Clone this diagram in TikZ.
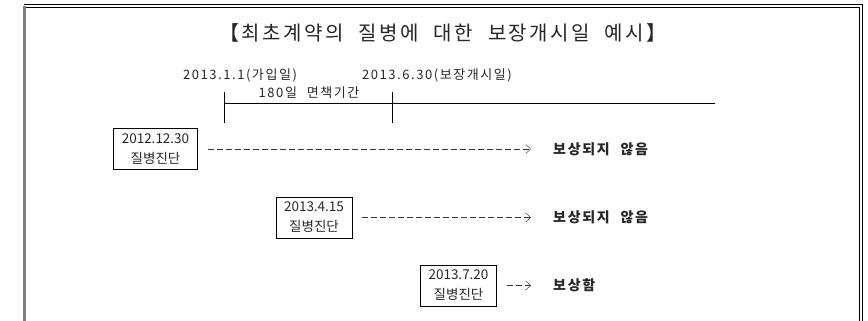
\documentclass[tikz,border=0pt]{standalone}
\usepackage{fontspec}
\setmainfont{Noto Sans CJK KR}
\newfontfamily\krwide[LetterSpace=12,WordSpace=2.2]{Noto Sans CJK KR}
\usetikzlibrary{arrows.meta}
\begin{document}
\begin{tikzpicture}
[x=1pt,y=-1pt,thin,%
  every node/.style={inner sep=0pt,text=black!85},%
  datebox/.style={draw,semithick,inner xsep=8pt,inner ysep=5pt,align=center,%
    font=\fontsize{13.5}{20}\selectfont},%
  result/.style={anchor=west,font=\krwide\fontsize{14}{15}\selectfont\bfseries},%
  dashline/.style={black!80,dash pattern=on 6pt off 3pt,shorten <=10pt,shorten >=22pt,%
    -{Straight Barb[length=5pt,width=9pt]}}]
\useasboundingbox (0,0) rectangle (868,321);
% frame
\draw[gray,line width=3pt] (24.5,6) -- (24.5,321);
\draw[line width=1pt] (24,5) -- (862.5,5) -- (862.5,321);
\draw[line width=1pt] (26,8) -- (859.5,8) -- (859.5,321);
\node[font=\krwide\fontsize{20}{21}\selectfont] (title) at (443,33) {【최초계약의 질병에 대한 보장개시일 예시】};
% time line
\coordinate (join) at (224,103);
\coordinate (cover) at (392,103);
\coordinate (tlend) at (715,103);
\draw (join) -- (tlend);
\draw (join) ++(0,-11) -- ++(0,31);
\draw (cover) ++(0,-11) -- ++(0,31);
\node[font=\krwide\fontsize{13}{14}\selectfont] (joinlbl) at (240,75) {2013.1.1(가입일)};
\node[font=\krwide\fontsize{13}{14}\selectfont] (coverlbl) at (437,75) {2013.6.30(보장개시일)};
\node[font=\krwide\fontsize{13}{14}\selectfont] (waiting) at (309,93) {180일 면책기간};
% cases
\node[datebox] (diag1) at (155.5,149) {2012.12.30\\질병진단};
\node[datebox] (diag2) at (314,217.5) {2013.4.15\\질병진단};
\node[datebox] (diag3) at (458.5,285.5) {2013.7.20\\질병진단};
\node[result] (res1) at (553,149) {보상되지 않음};
\node[result] (res2) at (553,217.5) {보상되지 않음};
\node[result] (res3) at (553,285.5) {보상함};
\draw[dashline] (diag1) -- (res1);
\draw[dashline] (diag2) -- (res2);
\draw[dashline] (diag3) -- (res3);
\end{tikzpicture}
\end{document}
